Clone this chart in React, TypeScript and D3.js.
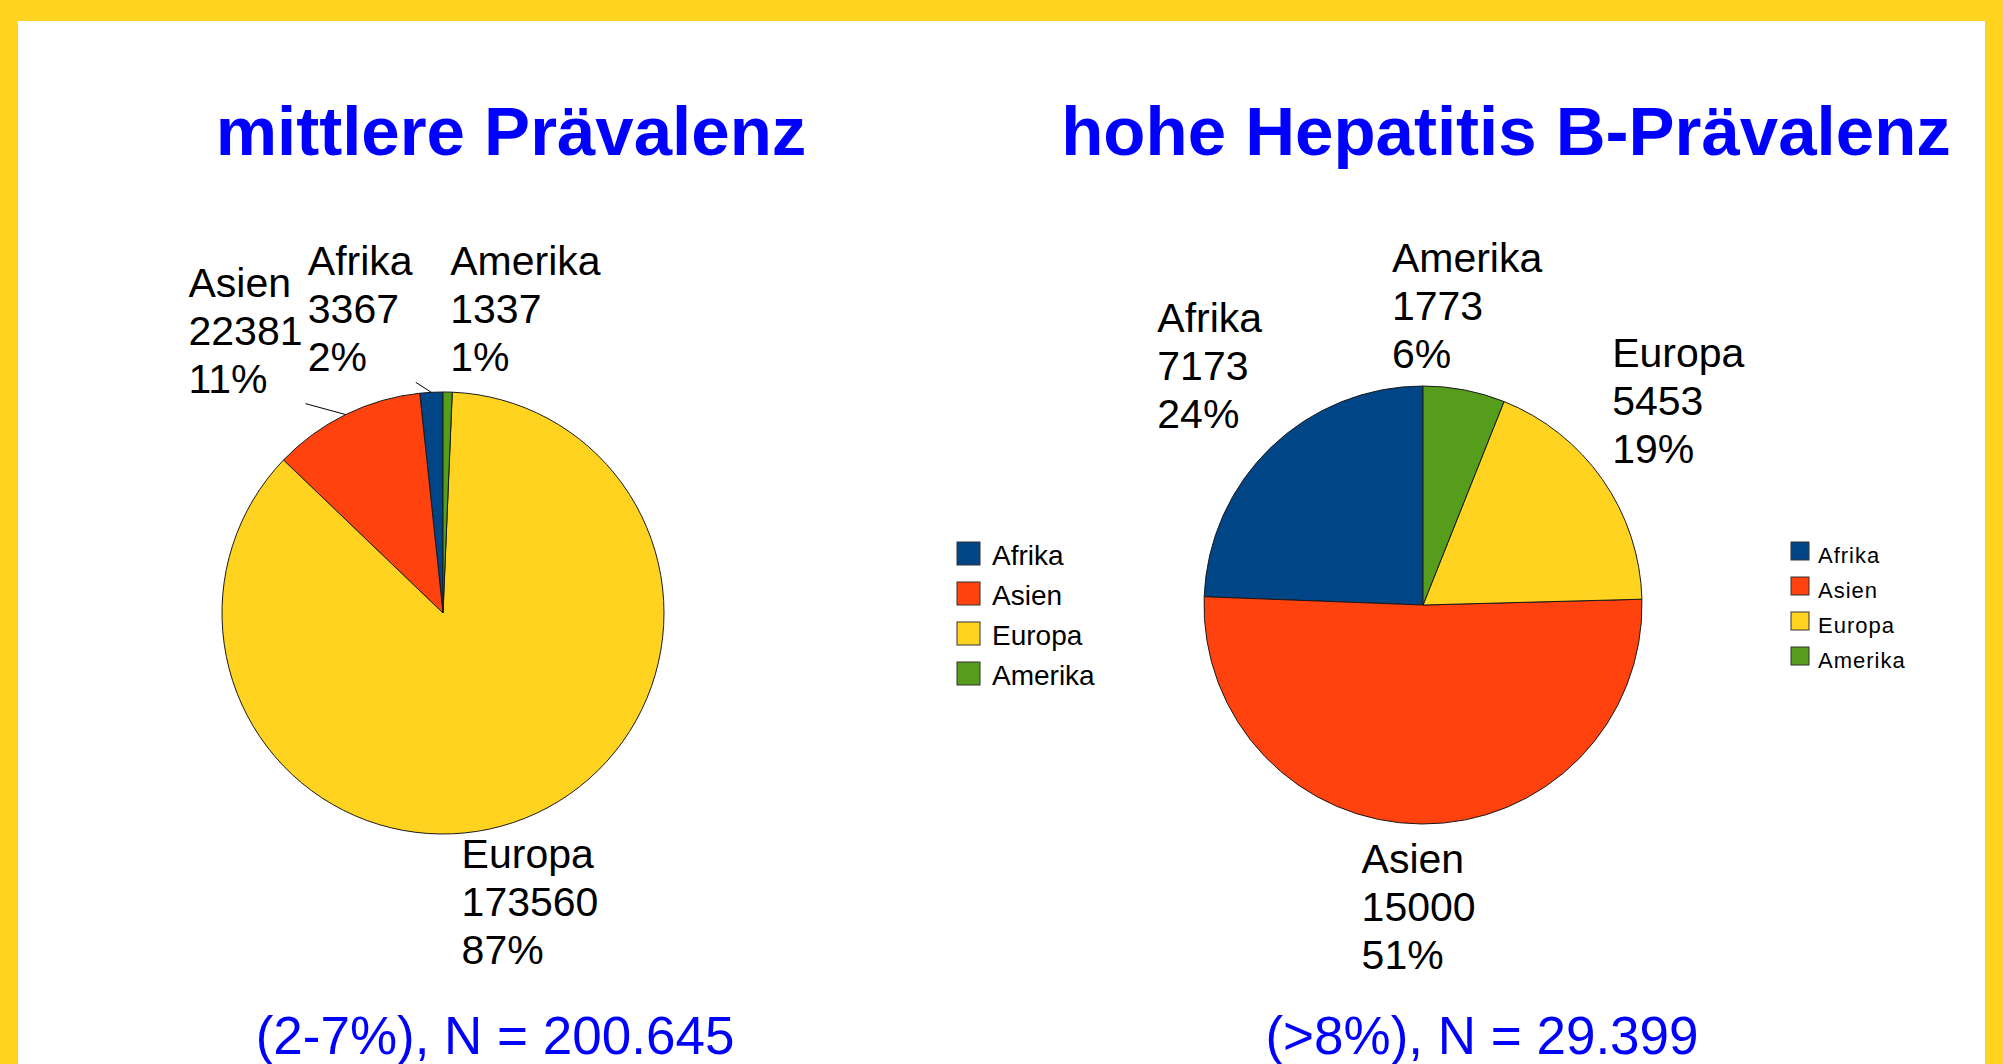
import * as d3 from "d3";
import { useEffect, useRef } from "react";

// regions in legend / slice order (counterclockwise from 12 o'clock)
const regions = ["Afrika", "Asien", "Europa", "Amerika"];
const regionColors = ["#004586", "#ff420e", "#ffd320", "#579d1c"];

// mittlere Prävalenz (2-7%)
const midValues = [3367, 22381, 173560, 1337];
// hohe Prävalenz (>8%)
const highValues = [7173, 15000, 5453, 1773];

const titles = ["mittlere Prävalenz", "hohe Hepatitis B-Prävalenz"];
const subtitles = ["(2-7%), N = 200.645", "(>8%), N = 29.399"];

const W = 2003;
const H = 1064;
const FONT = "'Liberation Sans', Arial, Helvetica, sans-serif";

interface PieLayout {
  values: number[];
  title: string;
  subtitle: string;
  cx: number;
  cy: number;
  r: number;
  titleX: number;
  subX: number;
  legend: { x: number; y: number; box: number; step: number; font: number; spacing: number; textGap: number; base: number };
  // manual label shifts (LibreOffice moved these labels to avoid collisions)
  nudges: [number, number][];
  leaders: boolean[];
}

const layouts: PieLayout[] = [
  {
    values: midValues,
    title: titles[0],
    subtitle: subtitles[0],
    cx: 443,
    cy: 613,
    r: 221,
    titleX: 511,
    subX: 495,
    legend: { x: 957, y: 542, box: 23, step: 40, font: 28, spacing: 0, textGap: 12, base: 23 },
    nudges: [[-122, -87], [-144, -91], [-75, 22], [2, -87]],
    leaders: [true, true, false, false],
  },
  {
    values: highValues,
    title: titles[1],
    subtitle: subtitles[1],
    cx: 1423,
    cy: 605,
    r: 219,
    titleX: 1506,
    subX: 1482,
    legend: { x: 1791, y: 542, box: 18, step: 35, font: 22, spacing: 1, textGap: 9, base: 21 },
    nudges: [[-93, -94], [-60, 19], [-15, -96], [-78, -88]],
    leaders: [false, false, false, false],
  },
];

const App = () => {
  const svgRef = useRef<SVGSVGElement | null>(null);

  useEffect(() => {
    document.body.style.margin = "0";
    if (!svgRef.current) return;
    const svg = d3.select(svgRef.current);
    svg.selectAll("*").remove();

    // yellow frame + white slide
    svg.append("rect").attr("width", W).attr("height", H).attr("fill", "#ffd320");
    svg
      .append("rect")
      .attr("x", 18)
      .attr("y", 21)
      .attr("width", W - 36)
      .attr("height", H - 21)
      .attr("fill", "#ffffff");

    const pct = d3.format(".0%");
    const lineH = 48;
    const labelFont = 41;

    layouts.forEach((lay) => {
      const total = d3.sum(lay.values);
      const pie = d3
        .pie<number>()
        .sort(null)
        .startAngle(0)
        .endAngle(-2 * Math.PI);
      const arcs = pie(lay.values);
      const arc = d3.arc<d3.PieArcDatum<number>>().innerRadius(0).outerRadius(lay.r);

      // title
      svg
        .append("text")
        .attr("x", lay.titleX)
        .attr("y", 155)
        .attr("text-anchor", "middle")
        .attr("font-family", FONT)
        .attr("font-weight", "bold")
        .attr("font-size", 69)
        .attr("fill", "#0000ff")
        .text(lay.title);

      // subtitle
      svg
        .append("text")
        .attr("x", lay.subX)
        .attr("y", 1054)
        .attr("text-anchor", "middle")
        .attr("font-family", FONT)
        .attr("font-size", 53)
        .attr("fill", "#0000ff")
        .text(lay.subtitle);

      const g = svg.append("g").attr("transform", `translate(${lay.cx},${lay.cy})`);

      g.selectAll("path")
        .data(arcs)
        .enter()
        .append("path")
        .attr("d", arc)
        .attr("fill", (_, i) => regionColors[i])
        .attr("stroke", "#1a1a1a")
        .attr("stroke-width", 1)
        .attr("stroke-linejoin", "round");

      // data labels
      arcs.forEach((a, i) => {
        const mid = (a.startAngle + a.endAngle) / 2;
        const R = lay.r + 30;
        const ax = Math.sin(mid) * R + lay.nudges[i][0];
        const ay = -Math.cos(mid) * R + lay.nudges[i][1];
        const t = g
          .append("text")
          .attr("font-family", FONT)
          .attr("font-size", labelFont)
          .attr("fill", "#000");
        [regions[i], String(a.data), pct(a.data / total)].forEach((s, k) => {
          t.append("tspan")
            .attr("x", ax)
            .attr("y", ay + k * lineH)
            .text(s);
        });
        if (lay.leaders[i]) {
          const bb = (t.node() as SVGTextElement).getBBox();
          g.append("line")
            .attr("x1", Math.sin(mid) * lay.r)
            .attr("y1", -Math.cos(mid) * lay.r)
            .attr("x2", bb.x + bb.width + 3)
            .attr("y2", bb.y + bb.height + 2)
            .attr("stroke", "#000")
            .attr("stroke-width", 1);
        }
      });

      // legend
      const L = lay.legend;
      const lg = svg.append("g").attr("transform", `translate(${L.x},${L.y})`);
      regions.forEach((name, i) => {
        const row = lg.append("g").attr("transform", `translate(0,${i * L.step})`);
        row
          .append("rect")
          .attr("width", L.box)
          .attr("height", L.box)
          .attr("fill", regionColors[i])
          .attr("stroke", "#333")
          .attr("stroke-width", 1);
        row
          .append("text")
          .attr("x", L.box + L.textGap)
          .attr("y", L.base)
          .attr("font-family", FONT)
          .attr("font-size", L.font)
          .attr("letter-spacing", L.spacing)
          .attr("fill", "#000")
          .text(name);
      });
    });
  }, []);

  return <svg ref={svgRef} width={W} height={H} style={{ display: "block" }} />;
};

export default App;
